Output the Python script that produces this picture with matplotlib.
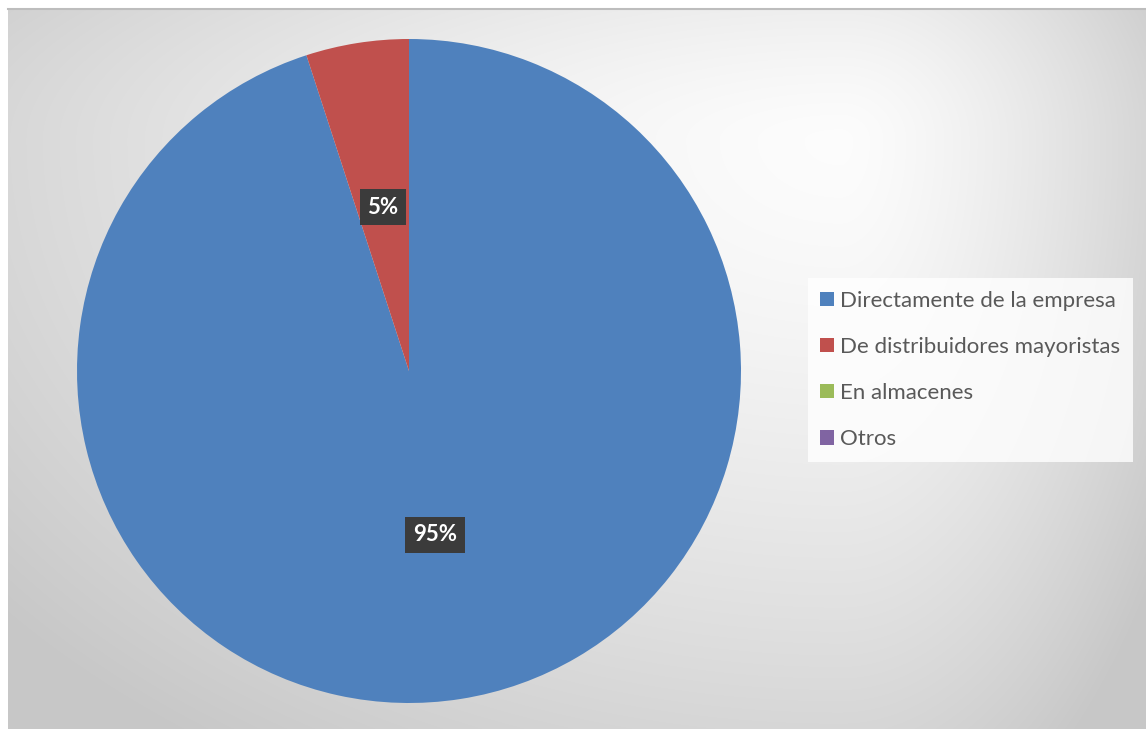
import matplotlib
matplotlib.use("Agg")
import matplotlib.pyplot as plt
import numpy as np

categories = ["Directamente de la empresa", "De distribuidores mayoristas",
              "En almacenes", "Otros"]
shares = [95, 5, 0, 0]
colors = ["#4F81BD", "#C0504D", "#9BBB59", "#8064A2"]

W, H = 1146, 729
plt.rcParams['font.family'] = ['Lato', 'DejaVu Sans']

fig = plt.figure(figsize=(W / 100, H / 100), dpi=100)
fig.patch.set_facecolor("white")

# radial grey background of the chart area (Excel style)
bg = fig.add_axes([8 / W, 0, 1 - 8 / W, 1 - 8 / H])
yy, xx = np.mgrid[8:H, 8:W]
cx, cy = 840, 140
dx = np.where(xx < cx, (xx - cx) / 900.0, (xx - cx) / 320.0)
dy = np.where(yy < cy, (yy - cy) / 280.0, (yy - cy) / 620.0)
r = np.clip(np.hypot(dx, dy), 0, 1.2)
shade = 0.99 - 0.16 * r ** 1.4
bg.imshow(np.dstack([shade] * 3), aspect="auto", interpolation="bilinear")
bg.axis("off")
fig.add_artist(plt.Line2D([8 / W, 1], [1 - 8.5 / H] * 2, color="#bdbdbd", lw=1.5))

# pie
ax = fig.add_axes([77 / W, 26 / H, 664 / W, 664 / H])
wedges, texts, autotexts = ax.pie(
    shares, colors=colors, startangle=90, counterclock=False,
    autopct=lambda p: f"{p:.0f}%" if p > 0 else "", pctdistance=0.5,
    wedgeprops=dict(linewidth=0),
    textprops=dict(color="white", fontsize=16, fontweight="bold"))
for t in autotexts:
    t.set_bbox(dict(boxstyle="square,pad=0.35", fc="#3b3b3b", ec="none"))
ax.set_xlim(-1, 1)
ax.set_ylim(-1, 1)

leg = fig.legend(wedges, categories, loc="center left",
                 bbox_to_anchor=(808 / W, 1 - 370 / H),
                 frameon=True, fancybox=False, fontsize=16,
                 handlelength=0.6, handleheight=0.6, handletextpad=0.3,
                 labelspacing=1.18, borderpad=0.55, borderaxespad=0)
leg.get_frame().set_facecolor((1, 1, 1, 0.25))
leg.get_frame().set_edgecolor("none")
for t in leg.get_texts():
    t.set_color("#595959")

fig.savefig("out.png", dpi=100)
